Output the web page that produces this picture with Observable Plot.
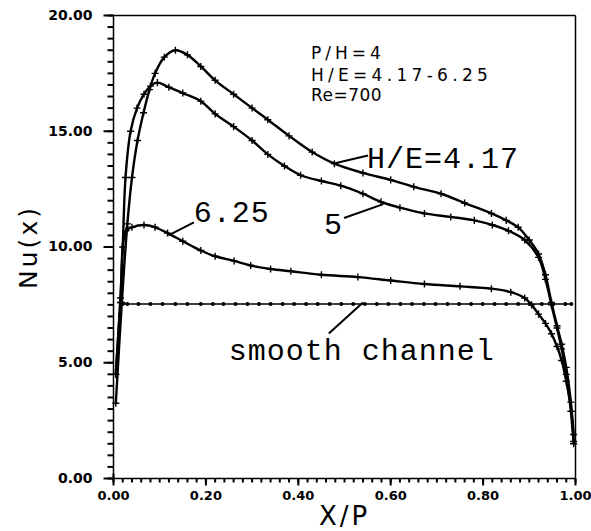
<!DOCTYPE html>
<html><head><meta charset="utf-8">
<script src="https://cdn.jsdelivr.net/npm/d3@7"></script>
<script src="https://cdn.jsdelivr.net/npm/@observablehq/plot@0.6"></script>
<style>
body{margin:0;background:#fff}
g[aria-description="mono"] text{letter-spacing:1px}
g[aria-description="title"] text{letter-spacing:3px}
g[aria-description="info"] text:nth-of-type(1){letter-spacing:4px}
g[aria-description="info"] text:nth-of-type(2){letter-spacing:4.3px}
g[aria-description="info"] text:nth-of-type(3){letter-spacing:0.5px}
</style>
</head><body><div id="chart"></div>
<script>
// H/E = 4.17
const he417X  = [0.005,0.018,0.03,0.04,0.052,0.065,0.078,0.09,0.11,0.134,0.16,0.189,0.22,0.26,0.30,0.334,0.38,0.43,0.478,0.54,0.60,0.65,0.709,0.76,0.818,0.85,0.876,0.90,0.92,0.935,0.948,0.96,0.97,0.98,0.99,0.996];
const he417Nu = [3.25,7.6,11.0,13.0,14.6,15.8,16.8,17.5,18.2,18.5,18.3,17.8,17.2,16.6,16.0,15.5,14.8,14.1,13.6,13.2,12.9,12.6,12.3,11.9,11.45,11.15,10.85,10.3,9.7,8.8,7.6,6.6,5.8,4.8,3.3,1.9];
// H/E = 5
const he5X  = [0.005,0.015,0.02,0.026,0.037,0.051,0.066,0.08,0.095,0.12,0.15,0.189,0.22,0.26,0.30,0.334,0.37,0.405,0.45,0.492,0.54,0.579,0.62,0.673,0.73,0.781,0.82,0.855,0.89,0.92,0.935,0.948,0.96,0.97,0.98,0.99,0.996];
const he5Nu = [4.5,7.8,10.0,13.0,15.0,16.0,16.6,16.95,17.1,16.9,16.65,16.3,15.75,15.2,14.6,14.0,13.5,13.1,12.85,12.65,12.3,11.95,11.7,11.45,11.3,11.15,10.95,10.7,10.3,9.55,8.6,7.5,6.5,5.6,4.5,2.9,1.5];
// H/E = 6.25
const he625X  = [0.005,0.015,0.027,0.04,0.066,0.09,0.117,0.15,0.189,0.22,0.261,0.297,0.34,0.384,0.45,0.529,0.60,0.673,0.75,0.818,0.86,0.89,0.905,0.92,0.935,0.948,0.96,0.97,0.98,0.991,0.996];
const he625Nu = [4.5,7.6,10.7,10.85,10.95,10.85,10.6,10.25,9.85,9.6,9.4,9.2,9.05,8.95,8.8,8.7,8.55,8.4,8.3,8.2,8.05,7.8,7.5,7.1,6.7,6.25,5.7,5.1,4.2,2.9,1.6];
// smooth channel
const smoothX  = [0.02,0.03,0.054,0.08,0.106,0.134,0.16,0.189,0.215,0.238,0.264,0.29,0.315,0.34,0.366,0.391,0.417,0.442,0.468,0.493,0.519,0.544,0.57,0.595,0.621,0.646,0.672,0.697,0.723,0.748,0.774,0.799,0.825,0.85,0.876,0.901,0.927,0.952,0.978,0.991];
const smoothNu = 7.54;

const yMajor = [0,5,10,15,20];
const xMajor = [0,0.2,0.4,0.6,0.8,1.0];
const yMinor = d3.range(0, 20.001, 0.5);
const xMinor = d3.range(0, 1.0001, 0.02);

const curveLabels = [
  {text:"H/E=4.17", x:0.5488, y:13.43},
  {text:"5", x:0.4555, y:10.58},
  {text:"6.25", x:0.1735, y:11.06},
  {text:"smooth channel", x:0.2495, y:5.10}
];
const pointers = [
  {x1:0.477, y1:13.61, x2:0.551, y2:13.95},
  {x1:0.499, y1:11.25, x2:0.584, y2:11.85},
  {x1:0.119, y1:10.50, x2:0.174, y2:11.06},
  {x1:0.466, y1:6.26, x2:0.540, y2:7.60}
];
const infoLines = ["P/H=4", "H/E=4.17-6.25", "Re=700"];
const infoX = 0.4273, infoY = [18.14, 17.19, 16.29];

const series = [
  {name:"4.17", x:he417X, y:he417Nu},
  {name:"5", x:he5X, y:he5Nu},
  {name:"6.25", x:he625X, y:he625Nu}
];
const rows = series.flatMap(s => s.x.map((x, i) => ({series:s.name, x, nu:s.y[i]})));
const smoothRows = smoothX.map(x => ({x, nu:smoothNu}));
const info = infoLines.map((text, i) => ({text, x:infoX, y:infoY[i]}));

// layout: the whole SVG is the plotting area; the axes box sits inside it
const W = 591, H = 531, boxL = 113, boxR = 575, boxT = 15, boxB = 478;
const xBox = [0, 1], yBox = [0, 20];
const xPerPx = (xBox[1] - xBox[0]) / (boxR - boxL), yPerPx = (yBox[1] - yBox[0]) / (boxB - boxT);
const xDom = [xBox[0] - boxL * xPerPx, xBox[1] + (W - boxR) * xPerPx];
const yDom = [yBox[0] - (H - boxB) * yPerPx, yBox[1] + boxT * yPerPx];

const yTicks = [
  ...yMinor.map(v => ({x1:-6 * xPerPx, x2:0, y1:v, y2:v})),
  ...yMajor.map(v => ({x1:-10 * xPerPx, x2:0, y1:v, y2:v}))
];
const xTicks = [
  ...xMinor.map(v => ({x1:v, x2:v, y1:0, y2:-4 * yPerPx})),
  ...xMajor.map(v => ({x1:v, x2:v, y1:(v === 0 ? 5 : 0) * yPerPx, y2:-7 * yPerPx}))
];
const box = [
  {x1:0, x2:1, y1:0, y2:0}, {x1:0, x2:1, y1:20, y2:20},
  {x1:0, x2:0, y1:0, y2:20}, {x1:1, x2:1, y1:0, y2:20}
];

const chart = Plot.plot({
  width:W, height:H,
  marginLeft:0, marginRight:0, marginTop:0, marginBottom:0,
  x:{domain:xDom, axis:null}, y:{domain:yDom, axis:null},
  style:{fontFamily:"DejaVu Sans", background:"white", color:"black"},
  marks:[
    Plot.link(box, {x1:"x1", x2:"x2", y1:"y1", y2:"y2", stroke:"black", strokeWidth:1.5}),
    Plot.link(yTicks, {x1:"x1", x2:"x2", y1:"y1", y2:"y2", stroke:"black", strokeWidth:2}),
    Plot.link(xTicks, {x1:"x1", x2:"x2", y1:"y1", y2:"y2", stroke:"black", strokeWidth:2}),
    Plot.text(yMajor, {x:0, y:d => d, text:d3.format(".2f"), textAnchor:"end", lineAnchor:"middle", dx:-21, fontSize:14, fontWeight:"bold"}),
    Plot.text(xMajor, {x:d => d, y:0, text:d3.format(".2f"), textAnchor:"middle", lineAnchor:"top", dy:12, fontSize:13, fontWeight:"bold"}),
    Plot.line(rows, {x:"x", y:"nu", z:"series", stroke:"black", strokeWidth:2.4, curve:"catmull-rom"}),
    Plot.dot(rows, {x:"x", y:"nu", symbol:"plus", r:2.4, stroke:"black", strokeWidth:1.4}),
    Plot.line(smoothRows, {x:"x", y:"nu", stroke:"black", strokeWidth:1.4}),
    Plot.dot(smoothRows, {x:"x", y:"nu", r:2, fill:"black"}),
    Plot.link(pointers, {x1:"x1", y1:"y1", x2:"x2", y2:"y2", stroke:"black", strokeWidth:2}),
    Plot.text(curveLabels, {x:"x", y:"y", text:"text", textAnchor:"start", lineAnchor:"bottom", fontFamily:"Liberation Mono", fontSize:30, ariaDescription:"mono"}),
    Plot.text(info, {x:"x", y:"y", text:"text", textAnchor:"start", lineAnchor:"bottom", fontFamily:"DejaVu Sans", fontSize:17, ariaDescription:"info"}),
    Plot.text(["Nu(x)"], {x:0, y:10, text:d => d, textAnchor:"middle", lineAnchor:"middle", dx:-85, rotate:-90, fontSize:25, ariaDescription:"title"}),
    Plot.text(["X/P"], {x:0.5, y:0, text:d => d, textAnchor:"middle", lineAnchor:"bottom", dy:46, fontSize:26, ariaDescription:"title"})
  ]
});
document.getElementById("chart").appendChild(chart);
</script>
</body></html>
